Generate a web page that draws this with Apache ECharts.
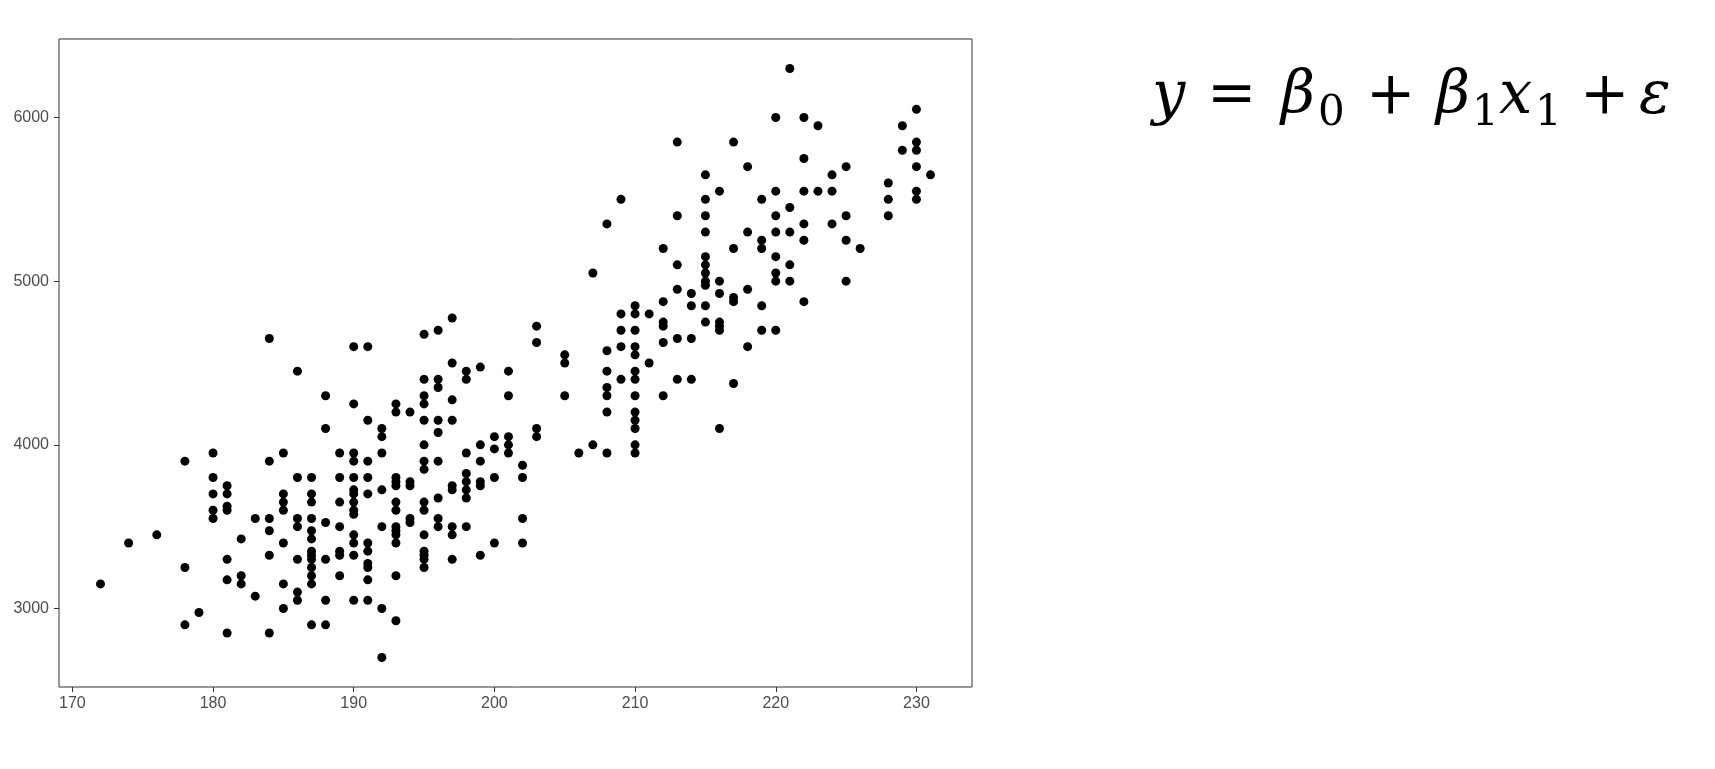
<!DOCTYPE html>
<html>
<head>
<meta charset="utf-8">
<script src="https://cdn.jsdelivr.net/npm/echarts@6/dist/echarts.min.js"></script>
<style>
html,body{margin:0;padding:0;background:#fff;}
#chart{width:1715px;height:769px;}
</style>
</head>
<body>
<div id="chart"></div>
<script>
// ---- data ----
const xTicks = [170, 180, 190, 200, 210, 220, 230];
const yTicks = [3000, 4000, 5000, 6000];

// flipper length values (x) and the body-mass values (y) found at each
const flipperLengths = [172,174,176,178,179,180,181,182,183,184,185,186,187,188,189,190,191,192,193,194,195,196,197,198,199,200,201,202,203,205,206,207,208,209,210,211,212,213,214,215,216,217,218,219,220,221,222,223,224,225,226,228,229,230,231];
const bodyMassGroups = [
  [3150],
  [3400],
  [3450],
  [3900,3250,2900],
  [2975],
  [3950,3800,3700,3600,3550],
  [3750,3700,3625,3600,3300,3175,2850],
  [3425,3200,3150],
  [3550,3075],
  [4650,3900,3550,3475,3325,2850],
  [3950,3700,3650,3600,3400,3150,3000],
  [4450,3800,3550,3500,3300,3100,3050],
  [3800,3700,3650,3550,3475,3425,3350,3325,3300,3250,3200,3150,2900],
  [4300,4100,3525,3300,3050,2900],
  [3950,3800,3650,3500,3350,3325,3200],
  [4600,4250,3950,3900,3800,3725,3700,3650,3600,3575,3450,3400,3325,3050],
  [4600,4150,3900,3800,3700,3400,3350,3275,3250,3175,3050],
  [4100,4050,3950,3725,3500,3000,2700],
  [4250,4200,3800,3775,3750,3650,3600,3500,3475,3450,3400,3200,2925],
  [4200,3775,3750,3550,3525],
  [4675,4400,4300,4250,4150,4000,3900,3850,3650,3600,3450,3350,3325,3300,3250],
  [4700,4400,4350,4150,4075,3900,3675,3550,3500],
  [4775,4500,4275,4150,3750,3725,3500,3450,3300],
  [4450,4400,3950,3825,3775,3725,3675,3500],
  [4475,4000,3900,3775,3750,3325],
  [4050,3975,3800,3400],
  [4450,4300,4050,4000,3950],
  [3875,3800,3550,3400],
  [4725,4625,4100,4050],
  [4550,4500,4300],
  [3950],
  [5050,4000],
  [5350,4575,4450,4350,4300,4200,3950],
  [5500,4800,4700,4600,4400],
  [4850,4800,4700,4600,4550,4450,4400,4300,4200,4150,4100,4000,3950],
  [4800,4500],
  [5200,4875,4750,4725,4625,4300],
  [5850,5400,5100,4950,4650,4400],
  [4925,4850,4650,4400],
  [5650,5500,5400,5300,5150,5100,5050,5000,4975,4850,4750],
  [5550,5000,4925,4750,4725,4700,4100],
  [5850,5200,4900,4875,4375],
  [5700,5300,4950,4600],
  [5500,5250,5200,4850,4700],
  [6000,5550,5400,5300,5150,5050,5000,4700],
  [6300,5450,5300,5100,5000],
  [6000,5750,5550,5350,5250,4875],
  [5950,5550],
  [5650,5550,5350],
  [5700,5400,5250,5000],
  [5200],
  [5600,5500,5400],
  [5950,5800],
  [6050,5850,5800,5700,5550,5500],
  [5650]
];

// equation pieces
const formulaMain = ['y', '=', 'β', '+', 'β', 'x', '+', 'ε'];
const formulaSubs = ['0', '1', '1'];

// ---- build ----
const points = [];
flipperLengths.forEach((x, i) => bodyMassGroups[i].forEach(y => points.push([x, y])));

const xs = points.map(p => p[0]), ys = points.map(p => p[1]);
const xMinD = Math.min(...xs), xMaxD = Math.max(...xs);
const yMinD = Math.min(...ys), yMaxD = Math.max(...ys);
const xPad = (xMaxD - xMinD) * 0.05, yPad = (yMaxD - yMinD) * 0.05;

const mathFont = '"DejaVu Serif", "Liberation Serif", serif';
const mainSize = 59, subSize = 42;
const mainY = 68, subY = 93;
function piece(txt, left, italic, sub) {
  return {
    type: 'text', left: left, top: sub ? subY : mainY,
    style: {
      text: txt, fill: '#000',
      font: (italic ? 'italic ' : '') + (sub ? subSize : mainSize) + 'px ' + mathFont
    }
  };
}

const chart = echarts.init(document.getElementById('chart'), null, {renderer: 'canvas'});
chart.setOption({
  animation: false,
  backgroundColor: '#ffffff',
  grid: {
    left: 59, right: 743, top: 39, bottom: 82,
    show: true, borderColor: '#333333', borderWidth: 1, backgroundColor: '#ffffff'
  },
  xAxis: {
    type: 'value',
    min: xMinD - xPad, max: xMaxD + xPad,
    axisLine: {show: false},
    splitLine: {show: false},
    axisTick: {show: true, length: 5, customValues: xTicks, lineStyle: {color: '#333333', width: 1}},
    axisLabel: {customValues: xTicks, fontSize: 16, color: '#4d4d4d', margin: 9,
                formatter: v => String(v),
                fontFamily: '"Liberation Sans", Arial, sans-serif'}
  },
  yAxis: {
    type: 'value',
    min: yMinD - yPad, max: yMaxD + yPad,
    axisLine: {show: false},
    splitLine: {show: false},
    axisTick: {show: true, length: 5, customValues: yTicks, lineStyle: {color: '#333333', width: 1}},
    axisLabel: {customValues: yTicks, fontSize: 16, color: '#4d4d4d', margin: 10,
                formatter: v => String(v),
                fontFamily: '"Liberation Sans", Arial, sans-serif'}
  },
  series: [{
    type: 'scatter',
    data: points,
    symbol: 'circle',
    symbolSize: 9,
    itemStyle: {color: '#000000', opacity: 1},
    emphasis: {disabled: true}
  }],
  graphic: [
    piece(formulaMain[0], 1152, true, false),
    piece(formulaMain[1], 1207, false, false),
    piece(formulaMain[2], 1281, true, false),
    piece(formulaSubs[0], 1318, false, true),
    piece(formulaMain[3], 1366, false, false),
    piece(formulaMain[4], 1436, true, false),
    piece(formulaSubs[1], 1472, false, true),
    piece(formulaMain[5], 1499, true, false),
    piece(formulaSubs[2], 1535, false, true),
    piece(formulaMain[6], 1580, false, false),
    piece(formulaMain[7], 1639, true, false)
  ]
});
</script>
</body>
</html>
